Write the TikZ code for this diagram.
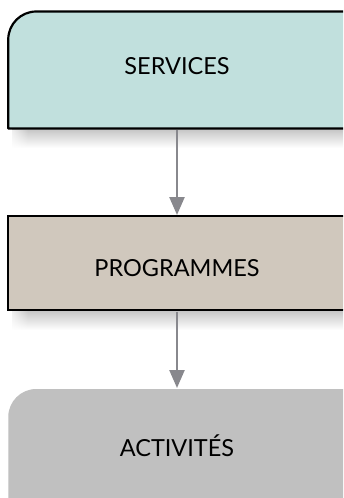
\documentclass[tikz,border=0pt]{standalone}
\usepackage{fontspec}
\setmainfont{Lato}
\usetikzlibrary{arrows.meta,fadings}
\definecolor{svcfill}{RGB}{193,224,221}
\definecolor{prgfill}{RGB}{208,200,189}
\definecolor{actfill}{RGB}{192,192,192}
\definecolor{arrowgray}{RGB}{136,136,141}
\begin{document}
\begin{tikzpicture}[x=1pt,y=-1pt,
  frame/.style={minimum width=337.5pt, inner sep=0pt, outer sep=0pt, draw=none},
  caption/.style={font=\fontsize{23.5}{27}\selectfont, inner sep=0pt, text=black},
  link/.style={draw=arrowgray, line width=2.4pt, -{Triangle[width=15pt,length=18pt]},
               shorten <=1.5pt, shorten >=1pt},
  dropshadow/.style={top color=black!22, bottom color=white, draw=none},
]
\useasboundingbox (0,0) rectangle (343,498);
\clip (0,0) rectangle (343,498);
\fill[white] (0,0) rectangle (343,498);

% invisible frames that carry the names and geometry of the three boxes
\node[frame, minimum height=117pt] (services)   at (177,70)    {};
\node[frame, minimum height=94pt]  (programmes) at (177,263)   {};
\node[frame, minimum height=131pt] (activities) at (177,454.5) {};

% soft shadows under the framed boxes
\shade[dropshadow] (12,129.5) rectangle (346,148);
\fill[white, path fading=east] (6,129.5) rectangle (28,148);
\shade[dropshadow] (12,311) rectangle (346,330);
\fill[white, path fading=east] (6,311) rectangle (28,330);

% box shapes: only the top left corner is rounded
\filldraw[fill=svcfill, draw=black, line width=2.2pt, line join=round]
  (services.south east) -- (services.south west)
  -- ([yshift=-28pt]services.north west)
  arc[start angle=180, end angle=90, radius=28pt]
  -- (services.north east);
\filldraw[fill=prgfill, draw=black, line width=2.2pt]
  (programmes.south east) -- (programmes.south west)
  -- (programmes.north west) -- (programmes.north east);
\fill[actfill]
  (activities.south east) -- (activities.south west)
  -- ([yshift=-28pt]activities.north west)
  arc[start angle=180, end angle=90, radius=28pt]
  -- (activities.north east) -- cycle;

% texts
\node[caption] (servicestext)   at (177,66.5)  {SERVICES};
\node[caption] (programmestext) at (177,268)   {PROGRAMMES};
\node[caption] (activitiestext) at (177,446)   {ACTIVITÉS};

% connectors
\draw[link] (services.south) -- (programmes.north);
\draw[link] (programmes.south) -- (activities.north);
\end{tikzpicture}
\end{document}
